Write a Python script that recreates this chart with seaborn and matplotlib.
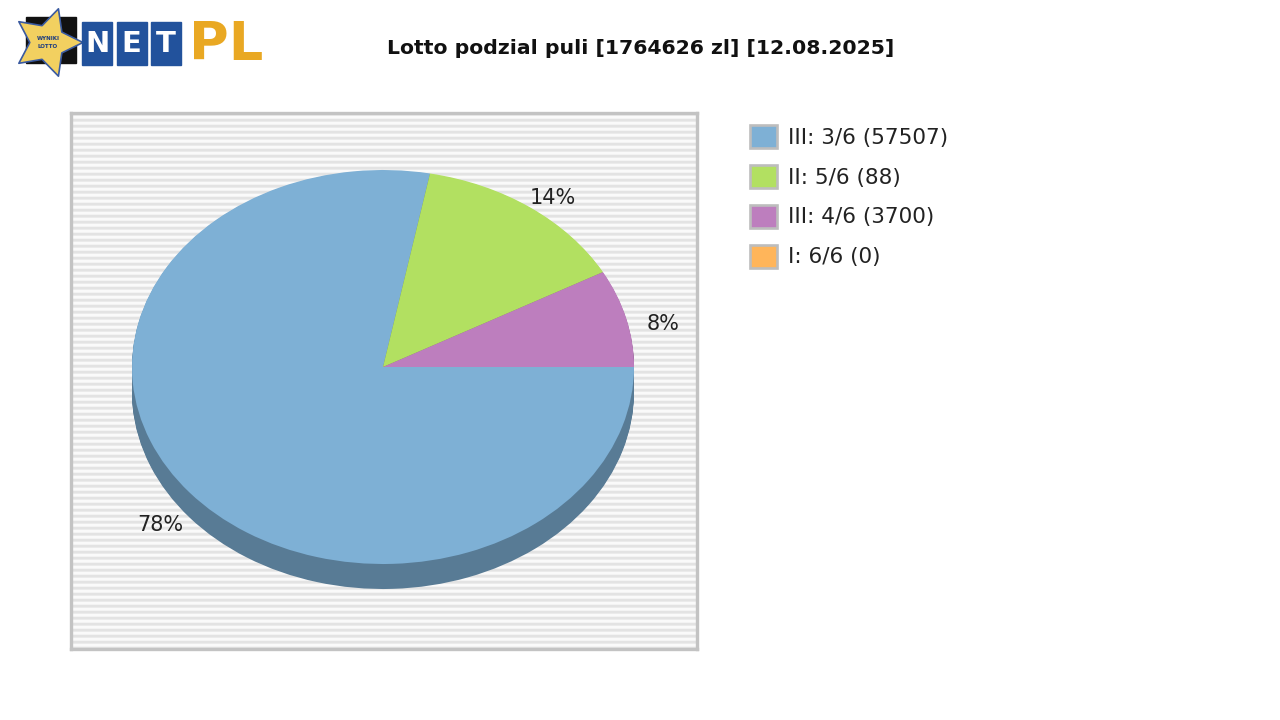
import numpy as np
import matplotlib
matplotlib.use("Agg")
import matplotlib.pyplot as plt
import matplotlib.colors as mcolors
from matplotlib.patches import Patch, Rectangle
import seaborn as sns

# Data
labels = ["III: 3/6 (57507)", "II: 5/6 (88)", "III: 4/6 (3700)", "I: 6/6 (0)"]
shares = [78, 14, 8, 0]
title = "Lotto podzial puli [1764626 zl] [12.08.2025]"

sns.set_style("white")
plt.rcParams["font.family"] = ["DejaVu Sans"]

palette = sns.color_palette(["#7eb0d5", "#b2e061", "#bd7ebe", "#ffb55a"])
dark = [tuple(c * 0.7 for c in mcolors.to_rgb(col)) for col in palette]

W, H = 1280, 720
fig = plt.figure(figsize=(12.8, 7.2), dpi=100)
fig.patch.set_facecolor("white")

# plot area in pixels
x0, x1, y0, y1 = 71, 697, 113, 649
rect = [x0 / W, 1 - y1 / H, (x1 - x0) / W, (y1 - y0) / H]

# striped background panel
bg = fig.add_axes(rect)
rows = y1 - y0
stripe = np.array([0.89, 0.89, 0.92, 0.98, 0.98, 0.95])
img = np.tile(stripe, rows // len(stripe) + 1)[:rows].reshape(-1, 1)
bg.imshow(img, aspect="auto", cmap="gray", vmin=0, vmax=1, interpolation="nearest")
bg.set_xticks([])
bg.set_yticks([])
for s in bg.spines.values():
    s.set_color("#c3c3c3")
    s.set_linewidth(2.4)

# pie axes (unit circle -> ellipse via auto aspect)
cx, cy, rx, ry = 383, 367, 251, 197
depth = 25 / ry
ax = fig.add_axes(rect, facecolor="none")

for k in np.linspace(depth, 0.004, 24):
    ax.pie(shares, colors=dark, startangle=0, counterclock=False,
           center=(0, -k), wedgeprops=dict(linewidth=0))

wedges, texts, autotexts = ax.pie(
    shares, colors=palette, startangle=0, counterclock=False,
    wedgeprops=dict(linewidth=0),
    autopct=lambda p: f"{p:.0f}%" if p > 0.5 else "",
    pctdistance=1.15,
    textprops=dict(fontsize=15, color="#222222"))
for t in autotexts:
    px, py = t.get_position()
    t.set_position((px, py - 0.07))

ax.set_aspect("auto")
ax.set_xlim((x0 - cx) / rx, (x1 - cx) / rx)
ax.set_ylim((cy - y1) / ry, (cy - y0) / ry)
ax.axis("off")

# title
fig.text(641 / W, 1 - 48 / H, title, ha="center", va="center",
         fontsize=14.7, fontweight="bold", color="#111111")

# legend
handles = [Patch(facecolor=c, edgecolor="#bdbdbd", linewidth=1.9) for c in palette]
fig.legend(handles, labels, loc="upper left",
           bbox_to_anchor=(750 / W, 1 - 125 / H), frameon=False,
           fontsize=15.5, handlelength=1.27, handleheight=1.27,
           handletextpad=0.5, labelspacing=0.78, borderpad=0, borderaxespad=0,
           labelcolor="#222222")

# logo
lg = fig.add_axes([0, 0, 1, 1], facecolor="none", zorder=5)
lg.set_xlim(0, W)
lg.set_ylim(H, 0)
lg.axis("off")
lg.add_patch(Rectangle((26, 17), 50, 46, color="#111111"))
lg.scatter([47], [42], marker=(5, 1, -90), s=2600, color="#f2d060",
           edgecolors="#3a5aa0", linewidths=1.2, zorder=3)
lg.text(48, 38, "WYNIKI", fontsize=4, color="#1a3a80", ha="center",
        va="center", zorder=4, fontweight="bold")
lg.text(48, 46, "LOTTO", fontsize=4, color="#1a3a80", ha="center",
        va="center", zorder=4, fontweight="bold")
for i, ch in enumerate("NET"):
    bx = 82 + i * 34.5
    lg.add_patch(Rectangle((bx, 22), 30, 43, color="#22529c", zorder=3))
    lg.text(bx + 15, 44, ch, fontsize=21, fontweight="bold", color="white",
            ha="center", va="center", zorder=4)
lg.text(189, 45, "PL", fontsize=39, fontweight="heavy", color="#e9a823",
        ha="left", va="center", zorder=4)

fig.savefig("out.png", dpi=100, facecolor="white")
